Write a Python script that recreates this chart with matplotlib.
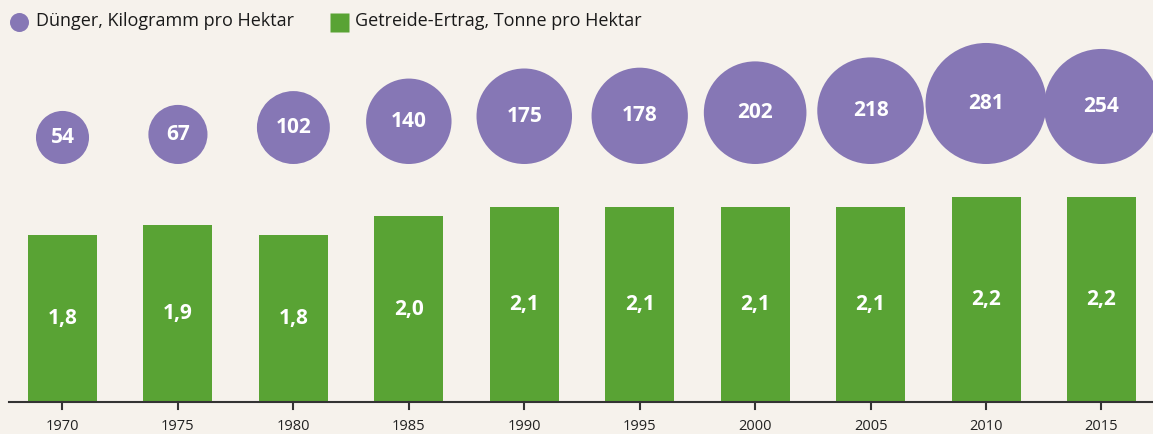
import numpy as np
import matplotlib
matplotlib.use("Agg")
import matplotlib.pyplot as plt

years = ["1970", "1975", "1980", "1985", "1990", "1995", "2000", "2005", "2010", "2015"]
duenger = [54, 67, 102, 140, 175, 178, 202, 218, 281, 254]        # kg pro Hektar
ertrag = [1.8, 1.9, 1.8, 2.0, 2.1, 2.1, 2.1, 2.1, 2.2, 2.2]       # Tonne pro Hektar

bg = "#f6f2ec"
purple = "#8677b5"
green = "#59a334"
plt.rcParams["font.family"] = ["Open Sans", "DejaVu Sans"]

W, H, dpi = 1153, 434, 100
fig = plt.figure(figsize=(W / dpi, H / dpi), dpi=dpi, facecolor=bg)
ax = fig.add_axes([0, 0, 1, 1], facecolor=bg)

# pixel layout -> data limits
x0_px, step_px = 62.5, 115.44
base_px = 32           # baseline from bottom
unit_px = 93.0         # px per tonne
ax.set_xlim(-x0_px / step_px, (W - x0_px) / step_px)
ax.set_ylim(-base_px / unit_px, (H - base_px) / unit_px)

x = np.arange(len(years))
ax.bar(x, ertrag, width=69 / step_px, color=green, zorder=2)
for xi, v in zip(x, ertrag):
    ax.text(xi, v / 2, f"{v:.1f}".replace(".", ","), ha="center", va="center",
            color="white", fontsize=15, fontweight="bold", zorder=3)

# bubbles: area proportional to value, bottoms aligned
k = 7.22                      # px diameter per sqrt(value)
bottom = (H - 164 - base_px) / unit_px
d_px = k * np.sqrt(duenger)
yc = bottom + d_px / 2 / unit_px
ax.scatter(x, yc, s=(d_px * 72 / dpi) ** 2, color=purple, edgecolors="none", zorder=2)
for xi, y, v in zip(x, yc, duenger):
    ax.text(xi, y, str(v), ha="center", va="center", color="white",
            fontsize=15, fontweight="bold", zorder=3)

# x axis
ax.axhline(0, xmin=9 / W, xmax=1, color="#333333", lw=1.5, zorder=4)
for xi, lab in zip(x, years):
    ax.plot([xi, xi], [0, -7 / unit_px], color="#333333", lw=1.5, zorder=4)
    ax.text(xi, -24 / unit_px, lab, ha="center", va="center", fontsize=10.5, color="#222222")
ax.axis("off")

# legend, placed in pixel coordinates
def px(xp, yp):
    return xp / W, 1 - yp / H

fig.lines.append(plt.Line2D(*zip(px(18.5, 21.5)), marker="o", markersize=19 * 72 / dpi,
                            color=purple, mec="none", ls="none", transform=fig.transFigure))
fig.text(*px(36, 21.5), "Dünger, Kilogramm pro Hektar", fontsize=13, color="#1a1a1a", va="center")
fig.lines.append(plt.Line2D(*zip(px(338.5, 21.5)), marker="s", markersize=19 * 72 / dpi,
                            color=green, mec="none", ls="none", transform=fig.transFigure))
fig.text(*px(355, 21.5), "Getreide-Ertrag, Tonne pro Hektar", fontsize=13, color="#1a1a1a", va="center")

fig.savefig("out.png", dpi=dpi, facecolor=bg)
